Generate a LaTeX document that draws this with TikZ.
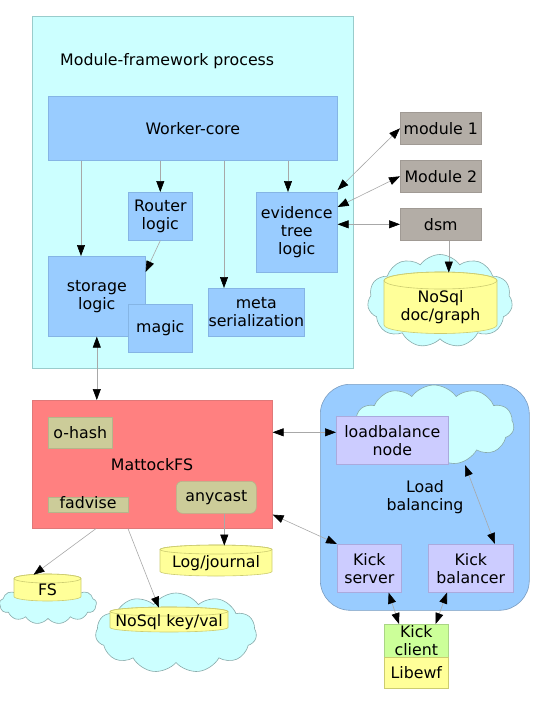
\documentclass[tikz,border=0pt]{standalone}
\usepackage{fontspec}
\setmainfont{DejaVu Sans}
\usetikzlibrary{arrows.meta,shapes.symbols,calc}
\definecolor{cyanbg}{HTML}{CCFFFF}
\definecolor{cyanbd}{HTML}{99CCCC}
\definecolor{bluebox}{HTML}{99CCFF}
\definecolor{bluebd}{HTML}{85B5E5}
\definecolor{graybox}{HTML}{B3ADA6}
\definecolor{graybd}{HTML}{A09A94}
\definecolor{redbox}{HTML}{FF8080}
\definecolor{redbd}{HTML}{E07878}
\definecolor{khaki}{HTML}{CCCC99}
\definecolor{khakibd}{HTML}{B5B58A}
\definecolor{lilac}{HTML}{CCCCFF}
\definecolor{lilacbd}{HTML}{AAAADD}
\definecolor{yel}{HTML}{FFFF99}
\definecolor{yelbd}{HTML}{CCCC70}
\definecolor{grn}{HTML}{CCFF99}
\definecolor{grnbd}{HTML}{AAD585}
\definecolor{lbbd}{HTML}{7A9CC0}
\definecolor{cloudbd}{HTML}{88AAAA}
\definecolor{linec}{HTML}{A8A8A8}
\newcommand\mycyl[7]{%
  \pgfmathsetmacro\myrx{(#3-#2)/2}%
  \pgfmathsetmacro\mycx{(#3+#2)/2}%
  \pgfmathsetmacro\mycy{(#4+#5)/2+#6/2}%
  \filldraw[fill=yel,draw=yelbd,line width=0.6pt] (#2,#4) -- (#2,#5) arc[start angle=180,end angle=0,x radius=\myrx,y radius=#6] -- (#3,#4) arc[start angle=0,end angle=-180,x radius=\myrx,y radius=#6] -- cycle;
  \draw[draw=yelbd,line width=0.6pt] (\mycx,#4) ellipse[x radius=\myrx,y radius=#6];
  \node[txt] (#1) at (\mycx,\mycy) {#7};
}
\tikzset{
  every node/.style={font=\fontsize{15.8}{18.3}\selectfont},
  txt/.style={inner sep=0pt,align=center},
  box/.style={draw,line width=0.6pt,inner sep=0pt,align=center,anchor=north west},
  arr/.style={draw=linec,line width=0.6pt,-{Triangle[length=11pt,width=8pt,color=black]}},
  darr/.style={draw=linec,line width=0.6pt,{Triangle[length=11pt,width=8pt,color=black]}-{Triangle[length=11pt,width=8pt,color=black]}},
  cloudy/.style={cloud,cloud puffs=11,cloud puff arc=110,draw=cloudbd,fill=cyanbg,line width=0.6pt,inner sep=0pt}
}
\begin{document}
\begin{tikzpicture}[x=1pt,y=-1pt]
\useasboundingbox (0,0) rectangle (545,705);
% Module-framework process
\node[box,draw=cyanbd,fill=cyanbg,minimum width=321pt,minimum height=352pt] (mfp) at (32,16) {};
\node[txt,anchor=west] (mfptext) at (60,61) {Module-framework process};
\node[box,draw=bluebd,fill=bluebox,minimum width=289pt,minimum height=64pt] (wc) at (48,96) {Worker-core};
\node[box,draw=bluebd,fill=bluebox,minimum width=64pt,minimum height=48pt] (router) at (128,192) {Router\\logic};
\node[box,draw=bluebd,fill=bluebox,minimum width=81pt,minimum height=80pt] (evid) at (256,192) {evidence\\tree\\logic};
\node[box,draw=bluebd,fill=bluebox,minimum width=97pt,minimum height=80pt] (storage) at (48,256) {storage\\logic};
\node[box,draw=bluebd,fill=bluebox,minimum width=64pt,minimum height=48pt] (magic) at (128,304) {magic};
\node[box,draw=bluebd,fill=bluebox,minimum width=96pt,minimum height=48pt] (meta) at (208,288) {meta\\serialization};
% modules
\node[box,draw=graybd,fill=graybox,minimum width=81pt,minimum height=32pt] (mod1) at (400,112) {module 1};
\node[box,draw=graybd,fill=graybox,minimum width=81pt,minimum height=32pt] (mod2) at (400,160) {Module 2};
\node[box,draw=graybd,fill=graybox,minimum width=81pt,minimum height=32pt] (dsm) at (400,208) {dsm};
\node[cloudy,minimum width=145pt,minimum height=93pt] (cloud1) at (440,301) {};
\mycyl{docgraph}{384}{497}{280.5}{325}{8.5}{NoSql\\doc/graph}
% MattockFS
\node[box,draw=redbd,fill=redbox,minimum width=240pt,minimum height=128pt] (mattock) at (32,400) {};
\node[txt] (mattocktext) at (152,465) {MattockFS};
\node[box,draw=khakibd,fill=khaki,minimum width=64pt,minimum height=31pt] (ohash) at (48,417) {o-hash};
\node[box,draw=khakibd,fill=khaki,minimum width=80pt,minimum height=15pt] (fadvbox) at (48,497) {};
\node[txt] (fadvise) at (88,503) {fadvise};
\node[box,draw=khakibd,fill=khaki,minimum width=80pt,minimum height=32pt,rounded corners=6pt] (anycast) at (176,481) {anycast};
\mycyl{logj}{160}{272}{549.5}{571.5}{4.5}{Log/journal}
\node[cloudy,cloud puffs=13,minimum width=97pt,minimum height=40pt] (cloud2) at (48,604) {};
\mycyl{fs}{14}{81}{578.5}{596.5}{4.5}{FS}
\node[cloudy,minimum width=161pt,minimum height=80pt] (cloud3) at (176,633) {};
\mycyl{nosqlkv}{110}{228}{611.5}{627.5}{4.5}{NoSql key/val}
% Load balancing
\node[box,draw=lbbd,fill=bluebox,minimum width=209pt,minimum height=226pt,rounded corners=30pt] (lb) at (320,384) {};
\node[cloudy,minimum width=160pt,minimum height=80pt] (lbcloud) at (434,425) {};
\node[box,draw=lilacbd,fill=lilac,minimum width=112pt,minimum height=48pt] (lbnode) at (336,416) {loadbalance\\node};
\node[txt] (lbtext) at (425,497) {Load\\balancing};
\node[box,draw=lilacbd,fill=lilac,minimum width=64pt,minimum height=48pt] (kserver) at (337,544) {Kick\\server};
\node[box,draw=lilacbd,fill=lilac,minimum width=85pt,minimum height=48pt] (kbal) at (428,544) {Kick\\balancer};
\node[box,draw=grnbd,fill=grn,minimum width=64pt,minimum height=33pt] (kclient) at (384,624) {Kick\\client};
\node[box,draw=yelbd,fill=yel,minimum width=64pt,minimum height=31pt] (libewf) at (384,657) {Libewf};
% connectors
\draw[arr] ([xshift=33pt]wc.south west) -- ([xshift=33pt]storage.north west);
\draw[arr] (wc.south -| router.north) -- (router.north);
\draw[arr] ([xshift=16pt]wc.south -| meta.north west) -- ([xshift=16pt]meta.north west);
\draw[arr] ([xshift=32pt]wc.south -| evid.north west) -- ([xshift=32pt]evid.north west);
\draw[arr] (router.south) -- ([yshift=-16pt]storage.north east);
\draw[darr] (storage.south) -- (storage.south |- mattock.north);
\draw[darr] (mod1.west) -- ([yshift=2pt]evid.north east);
\draw[darr] (mod2.west) -- ([yshift=-15pt]evid.north east);
\draw[darr] (dsm.west) -- (evid.east |- dsm.west);
\draw[arr] ([xshift=8pt]dsm.south) -- ([xshift=8pt,yshift=-32pt]dsm.south);
\draw[darr] ([yshift=8pt]lbnode.west) -- ([yshift=32pt]mattock.east);
\draw[darr] ([yshift=14pt]mattock.south east) -- (kserver.north west);
\draw[darr] ([xshift=31pt,yshift=-40pt]lbcloud.center) -- ([xshift=67pt]kbal.north west);
\draw[darr] ([xshift=-13pt]kserver.south east) -- ([xshift=15pt]kclient.north west);
\draw[darr] ([xshift=19pt]kbal.south west) -- ([xshift=-13pt]kclient.north east);
\draw[arr] ([xshift=64pt]mattock.south west) -- ([xshift=-14pt,yshift=15pt]fs.center);
\draw[arr] ([xshift=96pt]mattock.south west) -- ([xshift=-10pt,yshift=14pt]nosqlkv.center);
\draw[arr] ([xshift=8pt]anycast.south) -- ([xshift=8pt,yshift=-32pt]anycast.south);
\end{tikzpicture}
\end{document}
